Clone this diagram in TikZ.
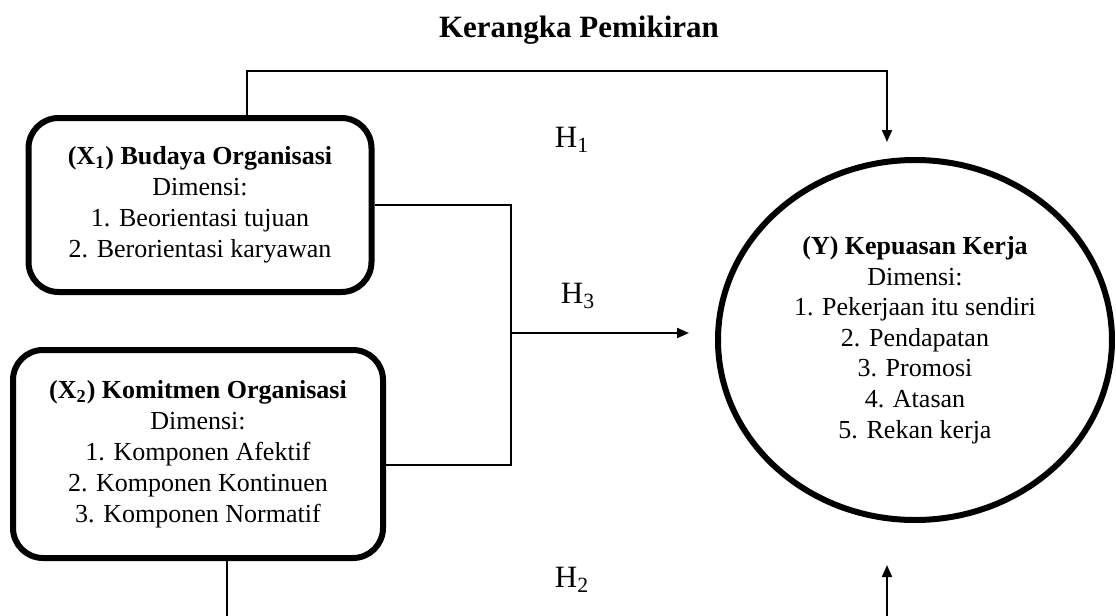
\documentclass[tikz,border=0pt]{standalone}
\usepackage{fontspec}
\setmainfont{Liberation Serif}
\usetikzlibrary{arrows.meta,shapes.geometric}

\begin{document}
\begin{tikzpicture}[x=0.5pt,y=-0.5pt,
    varbox/.style={draw, line width=3pt, rounded corners=15pt, align=center, inner sep=0pt,
        font=\fontsize{13}{15.5}\selectfont},
    varcirc/.style={draw, ellipse, line width=3pt, align=center, inner sep=0pt,
        font=\fontsize{13}{15.3}\selectfont},
    link/.style={line width=1pt},
    hyp/.style={font=\fontsize{15.5}{18}\selectfont}]
    \useasboundingbox (0,0) rectangle (1116,616);

    \node[font=\bfseries\fontsize{15.5}{18}\selectfont] (title) at (579,30) {Kerangka Pemikiran};

    % variables
    \node[varbox, minimum width=171.5pt, minimum height=87pt] (x1) at (200,205)
        {\textbf{(X\textsubscript{1}) Budaya Organisasi}\\Dimensi:\\1. Beorientasi tujuan\\2. Berorientasi karyawan};
    \node[varbox, minimum width=185pt, minimum height=104pt] (x2) at (198,454)
        {\textbf{(X\textsubscript{2}) Komitmen Organisasi}\\Dimensi:\\1. Komponen Afektif\\2. Komponen Kontinuen\\3. Komponen Normatif};
    \node[varcirc, minimum width=197pt, minimum height=180pt] (y) at (915,340)
        {\textbf{(Y) Kepuasan Kerja}\\Dimensi:\\1. Pekerjaan itu sendiri\\2. Pendapatan\\3. Promosi\\4. Atasan\\5. Rekan kerja};

    % H1
    \coordinate (h1up) at (247,71);
    \coordinate (h1tip) at (887,142);
    \draw[link, -{Triangle[length=6pt,width=5pt]}] (x1.north -| h1up) -- (h1up) -| (h1tip);
    \node[hyp] (h1) at (572,140) {H\textsubscript{1}};

    % H3
    \coordinate (h3join) at (511,333);
    \coordinate (h3bot) at (511,465);
    \coordinate (h3tip) at (689,333);
    \draw[link] (x1.east) -| (h3bot) -- (x2.east |- h3bot);
    \draw[link, -{Triangle[length=6pt,width=5pt]}] (h3join) -- (h3tip);
    \node[hyp] (h3) at (578,296) {H\textsubscript{3}};

    % H2
    \coordinate (h2down) at (227,616);
    \coordinate (h2foot) at (887,616);
    \coordinate (h2tip) at (887,565);
    \draw[link] (x2.south -| h2down) -- (h2down);
    \draw[link, -{Triangle[length=6pt,width=5pt]}] (h2foot) -- (h2tip);
    \node[hyp] (h2) at (572,580) {H\textsubscript{2}};
\end{tikzpicture}
\end{document}
